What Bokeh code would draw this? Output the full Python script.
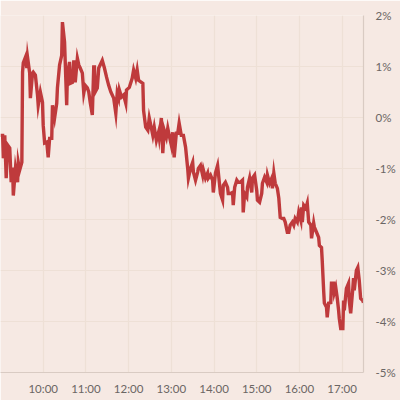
from datetime import datetime
from bokeh.plotting import figure
from bokeh.models import Range1d, FixedTicker, DatetimeTickFormatter, PrintfTickFormatter
from bokeh.embed import file_html
from bokeh.resources import INLINE

times = [
    "09:00", "09:03", "09:04", "09:06", "09:08", "09:10", "09:13", "09:15", "09:17", "09:18",
    "09:21", "09:24", "09:25", "09:27", "09:30", "09:31", "09:32", "09:35", "09:37", "09:38",
    "09:41", "09:42", "09:45", "09:46", "09:49", "09:52", "09:53", "09:56", "09:59", "10:00",
    "10:02", "10:05", "10:07", "10:09", "10:12", "10:13", "10:16", "10:19", "10:20", "10:23",
    "10:26", "10:27", "10:30", "10:33", "10:34", "10:37", "10:38", "10:41", "10:43", "10:45",
    "10:48", "10:50", "10:52", "10:55", "10:57", "10:59", "11:02", "11:04", "11:06", "11:09",
    "11:11", "11:12", "11:13", "11:16", "11:18", "11:20", "11:23", "11:26", "11:29", "11:32",
    "11:35", "11:37", "11:39", "11:42", "11:44", "11:46", "11:47", "11:50", "11:53", "11:56",
    "11:57", "12:01", "12:05", "12:07", "12:10", "12:12", "12:14", "12:20", "12:21", "12:24",
    "12:27", "12:29", "12:32", "12:34", "12:36", "12:39", "12:42", "12:43", "12:46", "12:48",
    "12:50", "12:53", "12:55", "12:57", "13:00", "13:02", "13:04", "13:07", "13:09", "13:11",
    "13:14", "13:17", "13:20", "13:23", "13:24", "13:27", "13:30", "13:31", "13:34", "13:37",
    "13:38", "13:41", "13:44", "13:45", "13:48", "13:51", "13:52", "13:55", "13:58", "13:59",
    "14:02", "14:05", "14:06", "14:09", "14:12", "14:13", "14:16", "14:19", "14:20", "14:23",
    "14:26", "14:27", "14:29", "14:32", "14:34", "14:37", "14:40", "14:41", "14:43", "14:46",
    "14:47", "14:50", "14:53", "14:54", "14:57", "15:00", "15:01", "15:04", "15:07", "15:08",
    "15:11", "15:14", "15:15", "15:18", "15:21", "15:22", "15:24", "15:26", "15:29", "15:31",
    "15:33", "15:36", "15:38", "15:40", "15:43", "15:45", "15:47", "15:50", "15:52", "15:54",
    "15:57", "15:59", "16:02", "16:03", "16:04", "16:06", "16:09", "16:11", "16:13", "16:16",
    "16:17", "16:20", "16:21", "16:24", "16:27", "16:28", "16:31", "16:32", "16:34", "16:35",
    "16:38", "16:39", "16:41", "16:44", "16:45", "16:48", "16:49", "16:51", "16:53", "16:55",
    "16:56", "16:58", "17:01", "17:02", "17:03", "17:06", "17:09", "17:10", "17:12", "17:15",
    "17:16", "17:17", "17:20", "17:22", "17:24", "17:26", "17:29", "17:30",
]

change_pct = [
    -0.35, -0.35, -0.80, -0.35, -1.19, -0.54, -0.60, -1.27, -0.98, -1.53,
    -1.00, -1.27, -0.88, -1.03, -0.88, 0.89, 1.07, 1.18, 0.97, 1.18,
    0.87, 0.38, 0.87, 0.89, 0.83, 0.44, 0.24, 0.50, 0.30, -0.15,
    -0.50, -0.48, -0.78, -0.41, -0.41, 0.24, -0.01, 0.28, 0.58, 1.03,
    1.22, 1.87, 1.48, 0.24, 0.83, 1.09, 0.67, 0.69, 1.12, 0.69,
    1.16, 1.03, 0.97, 0.87, 0.48, 0.63, 0.58, 0.50, 0.30, 0.05,
    0.99, 0.99, 0.50, 0.58, 0.97, 1.03, 1.12, 0.97, 0.79, 0.63,
    0.50, 0.44, 0.38, 0.08, 0.48, 0.38, 0.54, 0.40, 0.44, 0.28,
    0.54, 0.59, 0.77, 0.93, 0.77, 0.93, 0.73, 0.67, 0.14, -0.19,
    -0.25, -0.01, -0.21, -0.35, -0.19, -0.45, -0.29, -0.39, -0.01, -0.70,
    -0.25, -0.39, -0.21, -0.35, -0.54, -0.29, -0.78, -0.31, -0.31, -0.11,
    -0.35, -0.35, -0.58, -1.00, -1.19, -1.00, -0.88, -1.07, -1.23, -1.07,
    -1.00, -0.94, -1.13, -1.03, -1.19, -1.09, -1.19, -1.13, -1.23, -1.47,
    -1.09, -0.94, -1.07, -1.49, -1.62, -1.33, -1.27, -1.37, -1.49, -1.49,
    -1.47, -1.72, -1.37, -1.23, -1.27, -1.27, -1.23, -1.86, -1.49, -1.56,
    -1.37, -1.19, -1.47, -1.19, -1.13, -1.43, -1.62, -1.66, -1.49, -1.29,
    -1.17, -1.27, -1.13, -1.29, -1.19, -1.39, -1.09, -1.29, -1.39, -1.58,
    -1.96, -1.98, -1.98, -2.05, -2.25, -2.25, -2.11, -2.05, -2.11, -1.98,
    -2.05, -1.86, -2.02, -1.76, -2.05, -1.72, -1.78, -1.68, -2.05, -2.11,
    -2.37, -2.07, -2.15, -2.25, -2.35, -2.51, -2.55, -2.80, -3.39, -3.64,
    -3.72, -3.92, -3.64, -3.63, -3.25, -3.25, -3.43, -3.33, -3.53, -3.78,
    -3.94, -4.14, -4.14, -3.59, -3.78, -3.35, -3.25, -3.59, -3.84, -3.35,
    -3.15, -3.39, -3.00, -2.94, -3.19, -3.55, -3.59, -3.63,
]

hour_ticks = ["10:00", "11:00", "12:00", "13:00", "14:00", "15:00", "16:00", "17:00"]
pct_ticks = [-5, -4, -3, -2, -1, 0, 1, 2]
x_start, x_end = "09:00", "17:30"


def to_dt(hm):
    return datetime.strptime("2020-01-01 " + hm, "%Y-%m-%d %H:%M")


def to_ms(hm):
    return (to_dt(hm) - datetime(1970, 1, 1)).total_seconds() * 1000.0


BG = "#f6e9e3"
GRID = "#eee0d6"
AXIS = "#d9cbc3"
TEXT = "#6b6664"
LINE = "#bf3a3c"

p = figure(
    width=400, height=400,
    x_axis_type="datetime",
    x_range=Range1d(to_dt(x_start), to_dt(x_end)),
    y_range=Range1d(min(pct_ticks), max(pct_ticks)),
    output_backend="svg", toolbar_location=None,
    y_axis_location="right",
    min_border_left=0, min_border_right=37, min_border_top=15, min_border_bottom=28,
    background_fill_color=BG, border_fill_color=BG,
)
p.outline_line_color = None

p.line([to_dt(t) for t in times], change_pct, line_color=LINE, line_width=3.4,
       line_join="miter")

xa = p.xaxis[0]
xa.ticker = FixedTicker(ticks=[to_ms(t) for t in hour_ticks])
xa.formatter = DatetimeTickFormatter(hours="%H:%M", minutes="%H:%M", days="%H:%M")
ya = p.yaxis[0]
ya.ticker = FixedTicker(ticks=pct_ticks)
ya.formatter = PrintfTickFormatter(format="%d%%")

for ax in (xa, ya):
    ax.axis_line_color = AXIS
    ax.axis_line_width = 1.2
    ax.major_tick_line_color = None
    ax.minor_tick_line_color = None
    ax.major_label_text_color = TEXT
    ax.major_label_text_font = "Lato"
    ax.major_label_text_font_size = "11.5px"
xa.major_label_standoff = 3
ya.major_label_standoff = 6

p.xgrid.ticker = FixedTicker(ticks=[to_ms(t) for t in hour_ticks])
p.ygrid.ticker = FixedTicker(ticks=pct_ticks)
p.grid.grid_line_color = GRID
p.grid.grid_line_width = 1.2

open("out.html", "w").write(file_html(p, INLINE))
